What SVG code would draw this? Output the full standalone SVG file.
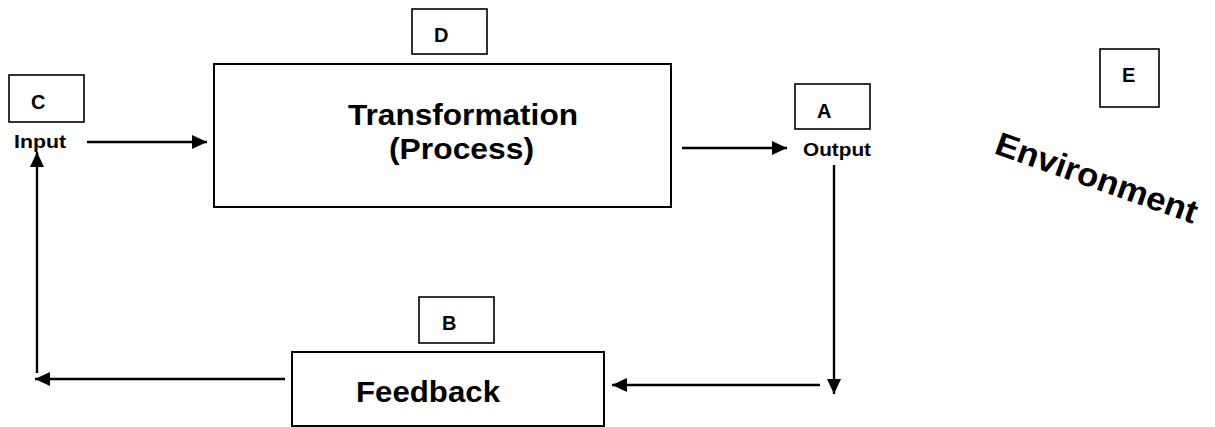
<svg xmlns="http://www.w3.org/2000/svg" width="1215" height="427" viewBox="0 0 1215 427">
  <style>
    .box { fill: #fff; stroke: #000; stroke-width: 1.6; }
    .main { fill: #fff; stroke: #000; stroke-width: 2; }
    .tag { font-family: "Liberation Sans", Arial, sans-serif; font-weight: bold; font-size: 20px; fill: #000; }
    .lbl { font-family: "Liberation Sans", Arial, sans-serif; font-weight: bold; font-size: 18.5px; fill: #000; }
    .big { font-family: "Liberation Sans", Arial, sans-serif; font-weight: bold; font-size: 30px; fill: #000; }
    .env { font-family: "Liberation Sans", Arial, sans-serif; font-weight: bold; font-size: 33px; fill: #000; }
    .wire { stroke: #000; stroke-width: 2.4; fill: none; }
  </style>
  <defs>
    <marker id="head" viewBox="0 0 15 14" refX="15" refY="7" markerWidth="15" markerHeight="14" markerUnits="userSpaceOnUse" orient="auto">
      <path d="M0,0 L15,7 L0,14 z" fill="#000"/>
    </marker>
  </defs>

  <rect width="1215" height="427" fill="#fff"/>

  <!-- connectors -->
  <g id="connectors">
    <line class="wire" x1="87" y1="142" x2="207" y2="142" marker-end="url(#head)"/>
    <line class="wire" x1="682" y1="148" x2="787" y2="148" marker-end="url(#head)"/>
    <line class="wire" x1="834" y1="165" x2="834" y2="394" marker-end="url(#head)"/>
    <line class="wire" x1="820" y1="385" x2="612" y2="385" marker-end="url(#head)"/>
    <line class="wire" x1="285" y1="379" x2="35" y2="379" marker-end="url(#head)"/>
    <line class="wire" x1="37" y1="373" x2="37" y2="152" marker-end="url(#head)"/>
  </g>

  <!-- input -->
  <g id="node-c">
    <rect class="box" x="9" y="75" width="75" height="47"/>
    <text class="tag" x="31" y="109">C</text>
  </g>
  <g id="node-input">
    <text class="lbl" x="14" y="148" textLength="52" lengthAdjust="spacingAndGlyphs">Input</text>
  </g>

  <!-- transformation -->
  <g id="node-d">
    <rect class="box" x="412" y="9" width="75" height="45"/>
    <text class="tag" x="434" y="42">D</text>
  </g>
  <g id="node-process">
    <rect class="main" x="214" y="64" width="457" height="143"/>
    <text class="big" x="348" y="125" textLength="230" lengthAdjust="spacingAndGlyphs">Transformation</text>
    <text class="big" x="389" y="159" textLength="145" lengthAdjust="spacingAndGlyphs">(Process)</text>
  </g>

  <!-- output -->
  <g id="node-a">
    <rect class="box" x="795" y="84" width="75" height="45"/>
    <text class="tag" x="817" y="118">A</text>
  </g>
  <g id="node-output">
    <text class="lbl" x="803" y="156" textLength="68" lengthAdjust="spacingAndGlyphs">Output</text>
  </g>

  <!-- feedback -->
  <g id="node-b">
    <rect class="box" x="419" y="297" width="75" height="46"/>
    <text class="tag" x="442" y="330">B</text>
  </g>
  <g id="node-feedback">
    <rect class="main" x="292" y="352" width="312" height="74"/>
    <text class="big" x="356" y="402" textLength="144" lengthAdjust="spacingAndGlyphs">Feedback</text>
  </g>

  <!-- environment -->
  <g id="node-e">
    <rect class="box" x="1100" y="49" width="59" height="58"/>
    <text class="tag" x="1122" y="82">E</text>
  </g>
  <g id="node-environment">
    <text class="env" transform="translate(993,153) rotate(19.5)" x="0" y="0" textLength="212" lengthAdjust="spacingAndGlyphs">Environment</text>
  </g>
</svg>
